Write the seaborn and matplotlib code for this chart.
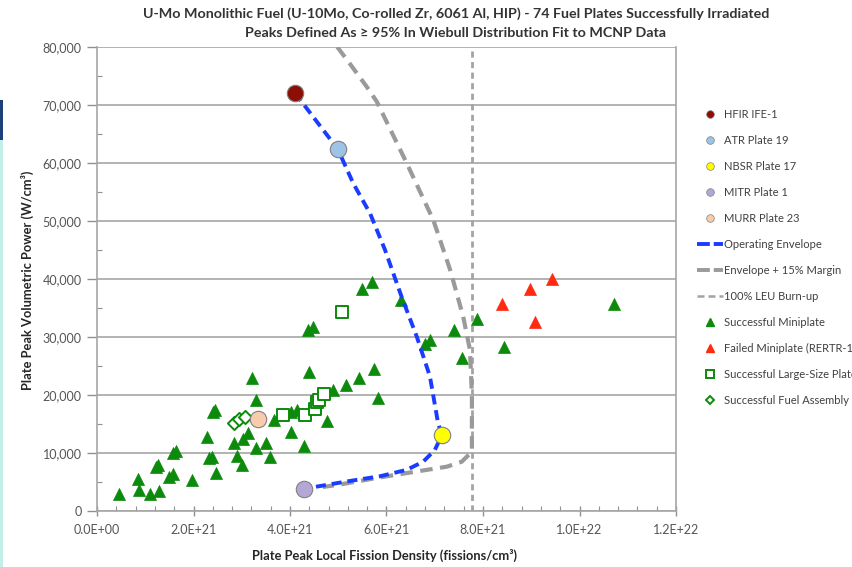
import matplotlib
matplotlib.use("Agg")
import matplotlib.pyplot as plt
import seaborn as sns
import numpy as np
import pandas as pd
from matplotlib.lines import Line2D
from matplotlib.patches import Rectangle
from matplotlib.ticker import FixedLocator, MultipleLocator

# ---------------- data ----------------
title_lines = ["U-Mo Monolithic Fuel (U-10Mo, Co-rolled Zr, 6061 Al, HIP) - 74 Fuel Plates Successfully Irradiated",
               "Peaks Defined As \u2265 95% In Wiebull Distribution Fit to MCNP Data"]
x_label = "Plate Peak Local Fission Density (fissions/cm\u00b3)"
y_label = "Plate Peak Volumetric Power (W/cm\u00b3)"

x_ticks = [0, 2e21, 4e21, 6e21, 8e21, 1e22, 1.2e22]
x_tick_labels = ["0.0E+00", "2.0E+21", "4.0E+21", "6.0E+21", "8.0E+21", "1.0E+22", "1.2E+22"]
y_ticks = [0, 10000, 20000, 30000, 40000, 50000, 60000, 70000, 80000]
y_tick_labels = ["0", "10,000", "20,000", "30,000", "40,000", "50,000", "60,000", "70,000", "80,000"]

hfir_x, hfir_y = [4.10e21], [72100]
atr_x, atr_y = [4.99e21], [62400]
nbsr_x, nbsr_y = [7.15e21], [13100]
mitr_x, mitr_y = [4.28e21], [3740]
murr_x, murr_y = [3.34e21], [15800]

env_x = [4.10e21, 4.99e21, 5.31e21, 5.66e21, 5.97e21, 6.31e21, 6.63e21, 6.90e21, 7.07e21, 7.15e21,
         7.00e21, 6.76e21, 6.42e21, 5.87e21, 5.18e21, 4.48e21, 4.28e21]
env_y = [72100, 62400, 56500, 51300, 45000, 37000, 30000, 23200, 15100, 13100,
         10500, 8500, 7100, 6000, 5100, 4100, 3740]

margin_x = [4.98e21, 5.21e21, 5.59e21, 5.80e21, 6.42e21, 6.97e21, 7.18e21, 7.32e21, 7.59e21, 7.73e21,
            7.77e21, 7.77e21, 7.56e21, 7.25e21, 6.69e21, 5.87e21, 4.97e21, 4.68e21]
margin_y = [80000, 77470, 73150, 70570, 59950, 50170, 45000, 41550, 33500, 27760,
            20000, 10220, 8500, 7640, 6900, 5800, 4480, 4140]

leu_x = [7.77e21, 7.77e21]
leu_y = [0, 80000]

mini_x = [0.46, 0.84, 0.88, 1.10, 1.28, 1.22, 1.27, 1.49, 1.58, 1.58, 1.63, 1.96, 2.27, 2.32, 2.39, 2.47,
          2.41, 2.45, 2.84, 2.90, 3.00, 3.03, 3.12, 3.29, 3.29, 3.22, 3.50, 3.59, 3.67, 4.03, 4.28, 4.03,
          4.14, 4.40, 4.76, 4.90, 5.16, 5.43, 5.75, 5.82, 4.38, 4.48, 5.49, 5.69, 6.31, 6.80, 6.90, 7.40,
          7.88, 7.56, 8.44, 10.72]
mini_y = [2930, 5460, 3620, 2930, 3500, 7530, 7930, 5810, 6320, 10000, 10300, 5340, 12700, 9080, 9360, 6600,
          17120, 17400, 11670, 9480, 7930, 12360, 13390, 10900, 19140, 22880, 11780, 9360, 15630, 13600, 11200, 17120,
          17410, 24020, 15550, 20800, 21800, 22880, 24480, 19430, 31210, 31780, 38220, 39540, 36380, 28790, 29480, 31150,
          33080, 26330, 28220, 35640]
mini_x = [v * 1e21 for v in mini_x]

failed_x = [9.44e21, 8.97e21, 8.39e21, 9.08e21]
failed_y = [39950, 38220, 35690, 32640]

large_x = [5.07e21, 3.86e21, 4.31e21, 4.52e21, 4.55e21, 4.61e21, 4.70e21]
large_y = [34360, 16600, 16550, 17530, 18840, 19140, 20120]

assy_x = [2.83e21, 2.95e21, 3.07e21]
assy_y = [15220, 15810, 16260]

legend_labels = ["HFIR IFE-1", "ATR Plate 19", "NBSR Plate 17", "MITR Plate 1", "MURR Plate 23",
                 "Operating Envelope", "Envelope + 15% Margin", "100% LEU Burn-up",
                 "Successful Miniplate", "Failed Miniplate (RERTR-12)", "Successful Large-Size Plate",
                 "Successful Fuel Assembly"]

# ---------------- style ----------------
sns.set_theme(style="white")
plt.rcParams['font.family'] = ['Lato', 'DejaVu Sans']

W, H = 852, 567
fig = plt.figure(figsize=(W / 100, H / 100), dpi=100)
ax = fig.add_axes([97 / W, 1 - 511 / H, (676 - 97) / W, (511 - 47) / H])

green = "#0b8a0b"
red = "#ff2a10"
blue = "#1a3cff"
gray_env = "#9a9a9a"
gray_leu = "#a3a3a3"

# triangles
sns.scatterplot(x=mini_x, y=mini_y, marker="^", s=75, color=green, edgecolor=green, linewidth=0.5, ax=ax, zorder=2)
sns.scatterplot(x=failed_x, y=failed_y, marker="^", s=75, color=red, edgecolor=red, linewidth=0.5, ax=ax, zorder=2)
sns.scatterplot(x=large_x, y=large_y, marker="s", s=85, facecolor="white", edgecolor=green, linewidth=1.4, ax=ax, zorder=2)
sns.scatterplot(x=assy_x, y=assy_y, marker="D", s=45, facecolor="white", edgecolor=green, linewidth=1.4, ax=ax, zorder=2)

# lines
sns.lineplot(x=leu_x, y=leu_y, sort=False, estimator=None, color=gray_leu, lw=2.0, ax=ax, zorder=3)
ax.lines[-1].set_dashes((2.2, 1.6))
sns.lineplot(x=margin_x, y=margin_y, sort=False, estimator=None, color=gray_env, lw=3.0, ax=ax, zorder=3)
ax.lines[-1].set_dashes((3.0, 1.8))
sns.lineplot(x=env_x, y=env_y, sort=False, estimator=None, color=blue, lw=2.8, ax=ax, zorder=3)
ax.lines[-1].set_dashes((2.6, 1.5))

# circles
circ = [(hfir_x, hfir_y, "#8b0f05"), (atr_x, atr_y, "#9dc3e6"), (nbsr_x, nbsr_y, "#ffff00"),
        (mitr_x, mitr_y, "#b4a7d6"), (murr_x, murr_y, "#f8cbad")]
for cx, cy, cc in circ:
    sns.scatterplot(x=cx, y=cy, marker="o", s=140, color=cc, edgecolor="#808080", linewidth=0.8, ax=ax, zorder=4)

# axes
ax.set_xlim(0, 1.2e22)
ax.set_ylim(0, 80000)
ax.xaxis.set_major_locator(FixedLocator(x_ticks))
ax.set_xticklabels(x_tick_labels)
ax.yaxis.set_major_locator(FixedLocator(y_ticks))
ax.set_yticklabels(y_tick_labels)
ax.xaxis.set_minor_locator(MultipleLocator(4e20))
ax.yaxis.set_minor_locator(MultipleLocator(5000))
ax.grid(False)
ax.yaxis.grid(True, which="major", color="#a6a6a6", lw=1.2)
ax.set_axisbelow(True)
for side in ["left", "bottom", "right"]:
    ax.spines[side].set_color("#a6a6a6")
    ax.spines[side].set_linewidth(1.2)
ax.spines["top"].set_visible(False)
ax.tick_params(axis="x", which="major", direction="inout", length=7, width=1, color="#909090",
               labelsize=9, labelcolor="#555555", pad=6, bottom=True)
ax.tick_params(axis="x", which="minor", direction="in", length=3.5, width=0.8, color="#909090", bottom=True)
ax.tick_params(axis="y", which="major", direction="out", length=7, width=1, color="#909090",
               labelsize=9, labelcolor="#555555", pad=4, left=True)
ax.tick_params(axis="y", which="minor", direction="in", length=3.5, width=0.8, color="#909090", left=True)

fig.text(384 / W, 1 - 555 / H, x_label, ha="center", va="center", fontsize=9.3, fontweight="bold", color="#262626")
fig.text(27 / W, 1 - 280 / H, y_label, ha="center", va="center", rotation=90, fontsize=9.3,
         fontweight="bold", color="#262626")
fig.text(456 / W, 1 - 14 / H, title_lines[0], ha="center", va="center", fontsize=10.3, fontweight="bold", color="#333333")
fig.text(456 / W, 1 - 33 / H, title_lines[1], ha="center", va="center", fontsize=10.3, fontweight="bold", color="#333333")

# legend
handles = [
    Line2D([], [], ls="none", marker="o", ms=5.5, mfc="#8b0f05", mec="#808080", mew=0.5),
    Line2D([], [], ls="none", marker="o", ms=5.5, mfc="#9dc3e6", mec="#808080", mew=0.5),
    Line2D([], [], ls="none", marker="o", ms=5.5, mfc="#ffff00", mec="#808080", mew=0.5),
    Line2D([], [], ls="none", marker="o", ms=5.5, mfc="#b4a7d6", mec="#808080", mew=0.5),
    Line2D([], [], ls="none", marker="o", ms=5.5, mfc="#f8cbad", mec="#808080", mew=0.5),
    Line2D([], [], color=blue, lw=2.8, dashes=(3.3, 1.0)),
    Line2D([], [], color=gray_env, lw=2.8, dashes=(3.3, 1.0)),
    Line2D([], [], color=gray_leu, lw=1.8, dashes=(2.8, 1.6)),
    Line2D([], [], ls="none", marker="^", ms=6, mfc=green, mec=green),
    Line2D([], [], ls="none", marker="^", ms=6, mfc=red, mec=red),
    Line2D([], [], ls="none", marker="s", ms=6, mfc="white", mec=green, mew=1.4),
    Line2D([], [], ls="none", marker="D", ms=4.5, mfc="white", mec=green, mew=1.4),
]
fig.legend(handles, legend_labels, loc="upper left", bbox_to_anchor=(697 / W, 1 - 109 / H),
           frameon=False, fontsize=8, handlelength=2.3, handletextpad=0.15, labelspacing=1.35,
           borderpad=0, borderaxespad=0, labelcolor="#404040")

# screenshot edge strips
fig.add_artist(Rectangle((0, 0), 3 / W, 1 - 140 / H, transform=fig.transFigure, color="#c4efe8", lw=0))
fig.add_artist(Rectangle((0, 1 - 140 / H), 3 / W, 40 / H, transform=fig.transFigure, color="#1f3f78", lw=0))

fig.savefig("out.png", dpi=100)
